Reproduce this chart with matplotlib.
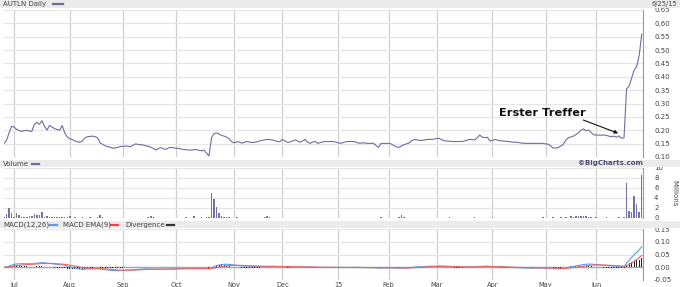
import numpy as np
import pandas as pd
import matplotlib
matplotlib.use("Agg")
import matplotlib.pyplot as plt
from matplotlib.patches import Rectangle
from matplotlib.lines import Line2D

# ---------------- data ----------------
holidays = ["2014-07-04", "2014-09-01", "2014-11-27", "2014-12-25", "2015-01-01",
            "2015-01-19", "2015-02-16", "2015-04-03", "2015-05-25"]
dates = pd.bdate_range("2014-06-25", "2015-06-25", freq="C", holidays=holidays)

month_labels = ["Jul", "Aug", "Sep", "Oct", "Nov", "Dec", "15", "Feb", "Mar", "Apr", "May", "Jun"]

price = [
    0.150, 0.162, 0.190, 0.215, 0.212, 0.203, 0.199, 0.196, 0.198, 0.200, 0.197, 0.196, 0.222, 0.230, 0.222, 0.236,
    0.215, 0.201, 0.218, 0.212, 0.206, 0.203, 0.200, 0.218, 0.190, 0.175, 0.168, 0.165, 0.160, 0.157, 0.155, 0.160,
    0.172, 0.176, 0.177, 0.178, 0.176, 0.172, 0.153, 0.147, 0.142, 0.139, 0.136, 0.133, 0.134, 0.136, 0.139,
    0.140, 0.141, 0.140, 0.139, 0.144, 0.149, 0.147, 0.146, 0.145, 0.142, 0.140, 0.137, 0.132, 0.126, 0.132, 0.135,
    0.130, 0.129, 0.134, 0.136, 0.134, 0.133, 0.132, 0.130, 0.128, 0.127, 0.126, 0.126, 0.127, 0.128, 0.125,
    0.123, 0.126, 0.115, 0.104, 0.172, 0.188, 0.190, 0.186, 0.181, 0.178, 0.174, 0.168, 0.157, 0.153, 0.157, 0.156,
    0.152, 0.155, 0.158, 0.156, 0.154, 0.155, 0.157, 0.160, 0.162, 0.164, 0.166, 0.165, 0.164, 0.161, 0.158, 0.157,
    0.166, 0.160, 0.155, 0.156, 0.160, 0.164, 0.160, 0.155, 0.160, 0.166, 0.155, 0.151, 0.156, 0.158, 0.151, 0.154,
    0.157, 0.158, 0.158, 0.158, 0.158, 0.156, 0.153, 0.151, 0.154, 0.157, 0.158, 0.158, 0.158, 0.156, 0.152, 0.152,
    0.153, 0.152, 0.151, 0.151, 0.151, 0.143, 0.136, 0.151, 0.151, 0.151, 0.151, 0.149, 0.143, 0.138, 0.136, 0.141,
    0.146, 0.149, 0.152, 0.160, 0.165, 0.165, 0.162, 0.162, 0.164, 0.165, 0.166, 0.166, 0.167, 0.169, 0.170,
    0.164, 0.161, 0.160, 0.159, 0.158, 0.158, 0.158, 0.158, 0.158, 0.160, 0.163, 0.166, 0.165, 0.164, 0.172, 0.182,
    0.174, 0.172, 0.174, 0.160, 0.162, 0.166, 0.163, 0.161, 0.160, 0.159, 0.158, 0.157, 0.156, 0.155, 0.155,
    0.153, 0.152, 0.151, 0.151, 0.151, 0.151, 0.151, 0.151, 0.151, 0.151, 0.149, 0.148, 0.142, 0.133, 0.134, 0.135,
    0.141, 0.147, 0.163, 0.172, 0.175, 0.178, 0.184, 0.190, 0.200, 0.205, 0.198, 0.201, 0.192, 0.183, 0.182, 0.182,
    0.182, 0.182, 0.181, 0.178, 0.176, 0.178, 0.174, 0.179, 0.170, 0.172, 0.355, 0.365, 0.395, 0.425, 0.438, 0.480,
    0.560,
]

volume = [  # millions
    0.3, 0.8, 2.0, 1.1, 0.3, 1.1, 0.6, 0.3, 0.2, 0.3,
    0.5, 0.5, 0.8, 0.7, 0.7, 1.2, 0.3, 0.4, 0.2, 0.3,
    0.2, 0.3, 0.2, 0.2, 0.3, 0.3, 0.5, 0.1, 0.2, 0.1,
    0.1, 0.2, 0.1, 0.1, 0.2, 0.1, 0.1, 0.2, 0.7, 0.3,
    0.1, 0.1, 0.0, 0.1, 0.1, 0.0, 0.1, 0.1, 0.0, 0.1,
    0.1, 0.0, 0.1, 0.1, 0.0, 0.1, 0.1, 0.2, 0.5, 0.2,
    0.1, 0.0, 0.1, 0.0, 0.1, 0.1, 0.0, 0.1, 0.1, 0.0,
    0.1, 0.1, 0.2, 0.1, 0.1, 0.4, 0.1, 0.1, 0.2, 0.1,
    0.2, 0.3, 5.1, 3.9, 2.2, 1.0, 0.5, 0.3, 0.2, 0.2,
    0.1, 0.1, 0.2, 0.1, 0.1, 0.0, 0.1, 0.1, 0.0, 0.1,
    0.1, 0.0, 0.1, 0.2, 0.4, 0.2, 0.1, 0.1, 0.0, 0.1,
    0.1, 0.0, 0.1, 0.0, 0.1, 0.1, 0.0, 0.1, 0.0, 0.1,
    0.0, 0.1, 0.1, 0.0, 0.1, 0.0, 0.1, 0.1, 0.0, 0.1,
    0.1, 0.0, 0.1, 0.0, 0.0, 0.1, 0.1, 0.0, 0.1, 0.0,
    0.1, 0.0, 0.1, 0.1, 0.0, 0.1, 0.0, 0.1, 0.1, 0.2,
    0.1, 0.0, 0.1, 0.1, 0.0, 0.1, 0.2, 0.7, 0.2, 0.1,
    0.1, 0.0, 0.1, 0.0, 0.1, 0.1, 0.0, 0.1, 0.1, 0.0,
    0.1, 0.0, 0.1, 0.1, 0.0, 0.1, 0.2, 0.1, 0.0, 0.1,
    0.0, 0.1, 0.1, 0.0, 0.1, 0.1, 0.2, 0.1, 0.0, 0.1,
    0.1, 0.0, 0.1, 0.2, 0.1, 0.0, 0.1, 0.1, 0.0, 0.1,
    0.1, 0.0, 0.1, 0.1, 0.0, 0.1, 0.1, 0.0, 0.1, 0.1,
    0.0, 0.1, 0.1, 0.2, 0.1, 0.1, 0.1, 0.3, 0.1, 0.1,
    0.2, 0.1, 0.2, 0.1, 0.5, 0.3, 0.5, 0.4, 0.5, 0.5,
    0.4, 0.3, 0.2, 0.1, 0.2, 0.1, 0.1, 0.1, 0.2, 0.1,
    0.1, 0.1, 0.1, 0.2, 0.1, 0.2, 7.0, 1.5, 1.2, 4.5,
    2.9, 1.2, 8.7,
]

price_ticks = [0.10, 0.15, 0.20, 0.25, 0.30, 0.35, 0.40, 0.45, 0.50, 0.55, 0.60, 0.65]
volume_ticks = [0, 2, 4, 6, 8, 10]
macd_ticks = [-0.05, 0.00, 0.05, 0.10, 0.15]

# MACD(12,26), EMA(9) signal, divergence derived from the price series
ps = pd.Series(price)
macd = ps.ewm(span=12, adjust=False).mean() - ps.ewm(span=26, adjust=False).mean()
signal = macd.ewm(span=9, adjust=False).mean()
divergence = macd - signal

# ---------------- layout ----------------
W, H = 680, 287
fig = plt.figure(figsize=(W / 100, H / 100), dpi=100)
fig.patch.set_facecolor("white")


def fx(x):
    return x / W


def fy(y):
    return 1 - y / H


for y0, y1 in [(0, 8), (160, 167), (221, 228)]:
    fig.patches.append(Rectangle((0, fy(y1)), 1, (y1 - y0) / H, transform=fig.transFigure,
                                 facecolor="#ebebeb", edgecolor="none", zorder=0))

L, R = 4, 643
ax1 = fig.add_axes([fx(L), fy(157), fx(R) - fx(L), (157 - 10) / H])
ax2 = fig.add_axes([fx(L), fy(218), fx(R) - fx(L), (218 - 168) / H])
ax3 = fig.add_axes([fx(L), fy(280), fx(R) - fx(L), (280 - 229) / H])

month_idx = [i for i in range(1, len(dates)) if dates[i].month != dates[i - 1].month]
n = len(price)

for ax in (ax1, ax2, ax3):
    ax.set_facecolor("white")
    ax.set_xlim(0, n - 0.5)
    ax.set_xticks(month_idx)
    ax.grid(axis="x", color="#cfcfcf", lw=0.9)
    ax.grid(axis="y", color="#e6e6e6", lw=0.9)
    ax.set_axisbelow(True)
    ax.yaxis.tick_right()
    ax.tick_params(axis="y", length=0, labelsize=5, colors="#444444", pad=8)
    ax.tick_params(axis="x", length=0, labelsize=4.8, colors="#444444", pad=1.5)
    for s in ("top", "left", "bottom"):
        ax.spines[s].set_visible(False)
    ax.spines["right"].set_color("#999999")
    ax.spines["right"].set_linewidth(0.8)

# price panel
ax1.plot(np.arange(n), price, color="#6e6e9e", lw=0.8)
ax1.set_ylim(0.10, 0.65)
ax1.set_yticks(price_ticks)
ax1.set_yticklabels([f"{t:.2f}" for t in price_ticks])
ax1.set_xticklabels([])
ax1.text(212.6, 0.2646, "Erster Treffer", ha="center", va="center", fontsize=8.2,
         fontweight="bold", color="#111111")
ax1.annotate("", xy=(242.7, 0.1887), xytext=(228.9, 0.2384),
             arrowprops=dict(arrowstyle="-|>", color="#111111", lw=0.8,
                             mutation_scale=5, shrinkA=0, shrinkB=0))

# volume panel
ax2.bar(np.arange(len(volume)), volume, width=0.6, color="#7272a2", linewidth=0)
ax2.set_ylim(0, 10)
ax2.set_yticks(volume_ticks)
ax2.set_yticklabels([str(t) for t in volume_ticks])
ax2.set_xticklabels([])

# MACD panel
xm = np.arange(n)
ax3.axhline(0, color="#a8a8a8", lw=1.0, zorder=1)
ax3.bar(xm, divergence, width=0.4, color="#222222", linewidth=0, zorder=2)
ax3.plot(xm, macd, color="#5b9cf0", lw=0.8, zorder=3)
ax3.plot(xm, signal, color="#ee6666", lw=0.8, zorder=3)
ax3.set_ylim(-0.05, 0.15)
ax3.set_yticks(macd_ticks)
ax3.set_yticklabels([f"{t:.2f}" for t in macd_ticks])
ax3.set_xticklabels(month_labels)

# header texts
tk = dict(fontsize=5, color="#444444", va="center")
fig.text(fx(3), fy(4), "AUTLN Daily", **tk)
fig.add_artist(Line2D([fx(53), fx(63)], [fy(4), fy(4)], color="#6e6e9e", lw=1.6))
fig.text(fx(651), fy(4), "6/25/15", fontsize=4.8, color="#444444", va="center")

fig.text(fx(3), fy(163.5), "Volume", **tk)
fig.add_artist(Line2D([fx(32), fx(39)], [fy(163.5), fy(163.5)], color="#6e6e9e", lw=1.6))
fig.text(fx(643), fy(163.5), "\u00a9BigCharts.com", fontsize=5, fontweight="bold",
         color="#4a4a70", ha="right", va="center")
fig.text(fx(674), fy(193), "Millions", rotation=270, fontsize=5, color="#444444",
         ha="center", va="center")

fig.text(fx(3), fy(224.5), "MACD(12,26)", **tk)
fig.add_artist(Line2D([fx(50), fx(57)], [fy(224.5), fy(224.5)], color="#5b9cf0", lw=1.6))
fig.text(fx(63), fy(224.5), "MACD EMA(9)", **tk)
fig.add_artist(Line2D([fx(111), fx(118)], [fy(224.5), fy(224.5)], color="#ee4444", lw=1.6))
fig.text(fx(125), fy(224.5), "Divergence", **tk)
fig.add_artist(Line2D([fx(167), fx(174)], [fy(224.5), fy(224.5)], color="#333333", lw=1.6))

fig.savefig("out.png", dpi=100, facecolor="white")
